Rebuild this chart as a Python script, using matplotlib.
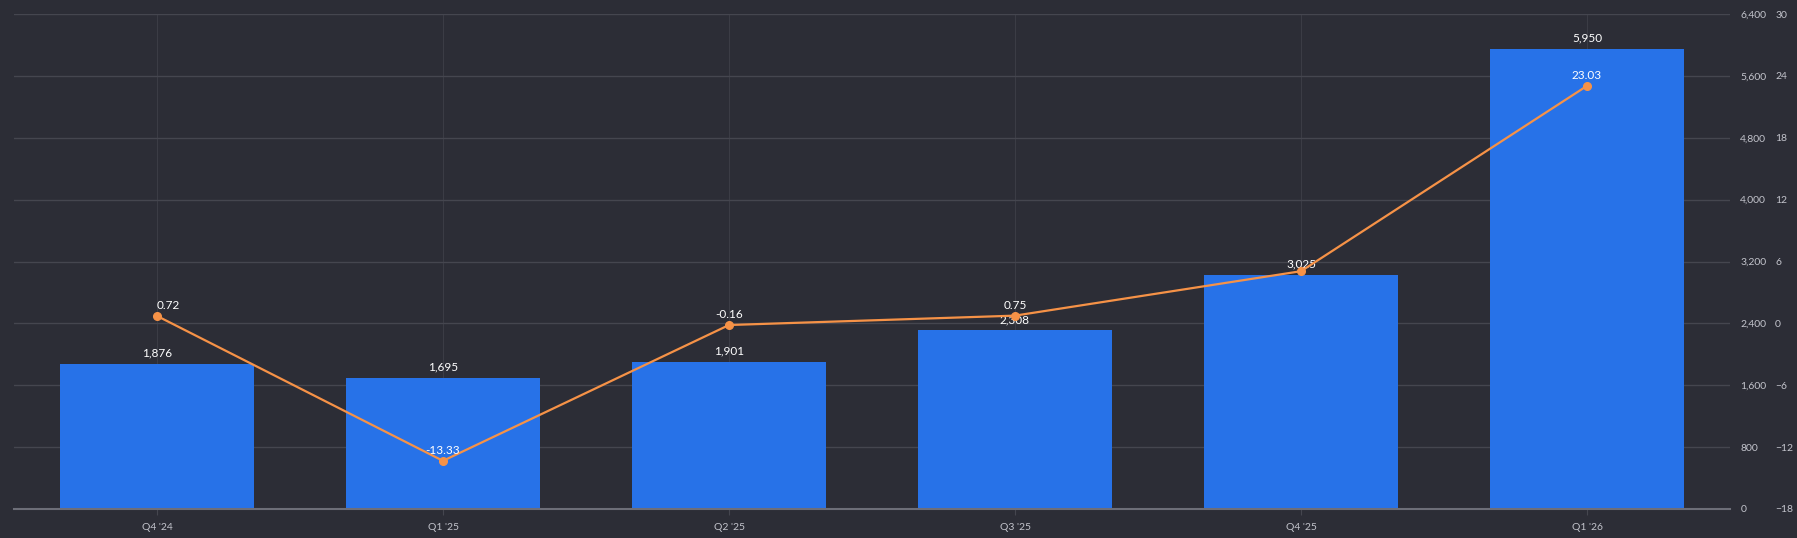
import matplotlib
matplotlib.use("Agg")
import matplotlib.pyplot as plt
from matplotlib.ticker import FuncFormatter, FixedLocator

categories = ["Q4 '24", "Q1 '25", "Q2 '25", "Q3 '25", "Q4 '25", "Q1 '26"]
bar_values = [1876, 1695, 1901, 2308, 3025, 5950]
line_values = [0.72, -13.33, -0.16, 0.75, 5.06, 23.03]
bar_ticks = [0, 800, 1600, 2400, 3200, 4000, 4800, 5600, 6400]
line_ticks = [-18, -12, -6, 0, 6, 12, 18, 24, 30]

BG = "#2c2d36"
BAR = "#2772e8"
LINE = "#f69247"
GRID = "#45464f"
AXIS = "#6d6e78"
TICK = "#c3c4cc"

plt.rcParams['font.family'] = ['Lato', 'DejaVu Sans']

fig = plt.figure(figsize=(17.97, 5.38), dpi=100, facecolor=BG)
ax = fig.add_axes([14/1797, 1-509/538, (1730-14)/1797, (509-14)/538])
ax.set_facecolor(BG)
x = list(range(len(categories)))

ax.bar(x, bar_values, width=0.68, color=BAR, zorder=2)
ax.set_xlim(-0.5, len(categories)-0.5)
ax.set_ylim(bar_ticks[0], bar_ticks[-1])
ax.yaxis.set_major_locator(FixedLocator(bar_ticks))
ax.yaxis.set_major_formatter(FuncFormatter(lambda v, p: f"{int(v):,}"))
ax.set_xticks(x)
ax.set_xticklabels(categories)
ax.tick_params(axis='x', length=4, color=GRID, pad=6, labelsize=7.5, labelcolor=TICK)

ax.grid(axis='y', color=GRID, linewidth=1.0, zorder=0)
ax.grid(axis='x', color="#3b3c45", linewidth=0.8, zorder=0)
for s in ['top', 'left', 'right']:
    ax.spines[s].set_visible(False)
ax.spines['bottom'].set_color(AXIS)
ax.spines['bottom'].set_linewidth(1.5)
ax.spines['bottom'].set_zorder(3)

for xi, v in zip(x, bar_values):
    ax.annotate(f"{v:,}", (xi, v), xytext=(0, 4), textcoords='offset points',
                ha='center', va='bottom', color='white', fontsize=8.5, zorder=5)

ax2 = ax.twinx()
ax2.set_ylim(line_ticks[0], line_ticks[-1])
ax2.yaxis.set_major_locator(FixedLocator(line_ticks))
ax2.tick_params(axis='y', length=0, pad=32.5, labelsize=7.5, labelcolor=TICK)
for s in ax2.spines.values():
    s.set_visible(False)
ax2.plot(x, line_values, color=LINE, linewidth=1.6, marker='o', markersize=5.5,
         zorder=4)

# bar axis labels on the right as well (after twinx)
ax.yaxis.tick_right()
ax.yaxis.set_label_position('right')
ax.tick_params(axis='y', which='both', left=False, labelleft=False, right=False,
               labelright=True, length=0, pad=7.5, labelsize=7.5, labelcolor=TICK)

for i, (xi, v) in enumerate(zip(x, line_values)):
    if i == 4:
        continue
    ha = 'left' if i == 0 else 'center'
    ax2.annotate(f"{v:.2f}", (xi, v), xytext=(0, 3.5), textcoords='offset points',
                 ha=ha, va='bottom', color='white', fontsize=8.5, zorder=6)

fig.savefig("out.png", dpi=100, facecolor=BG)
